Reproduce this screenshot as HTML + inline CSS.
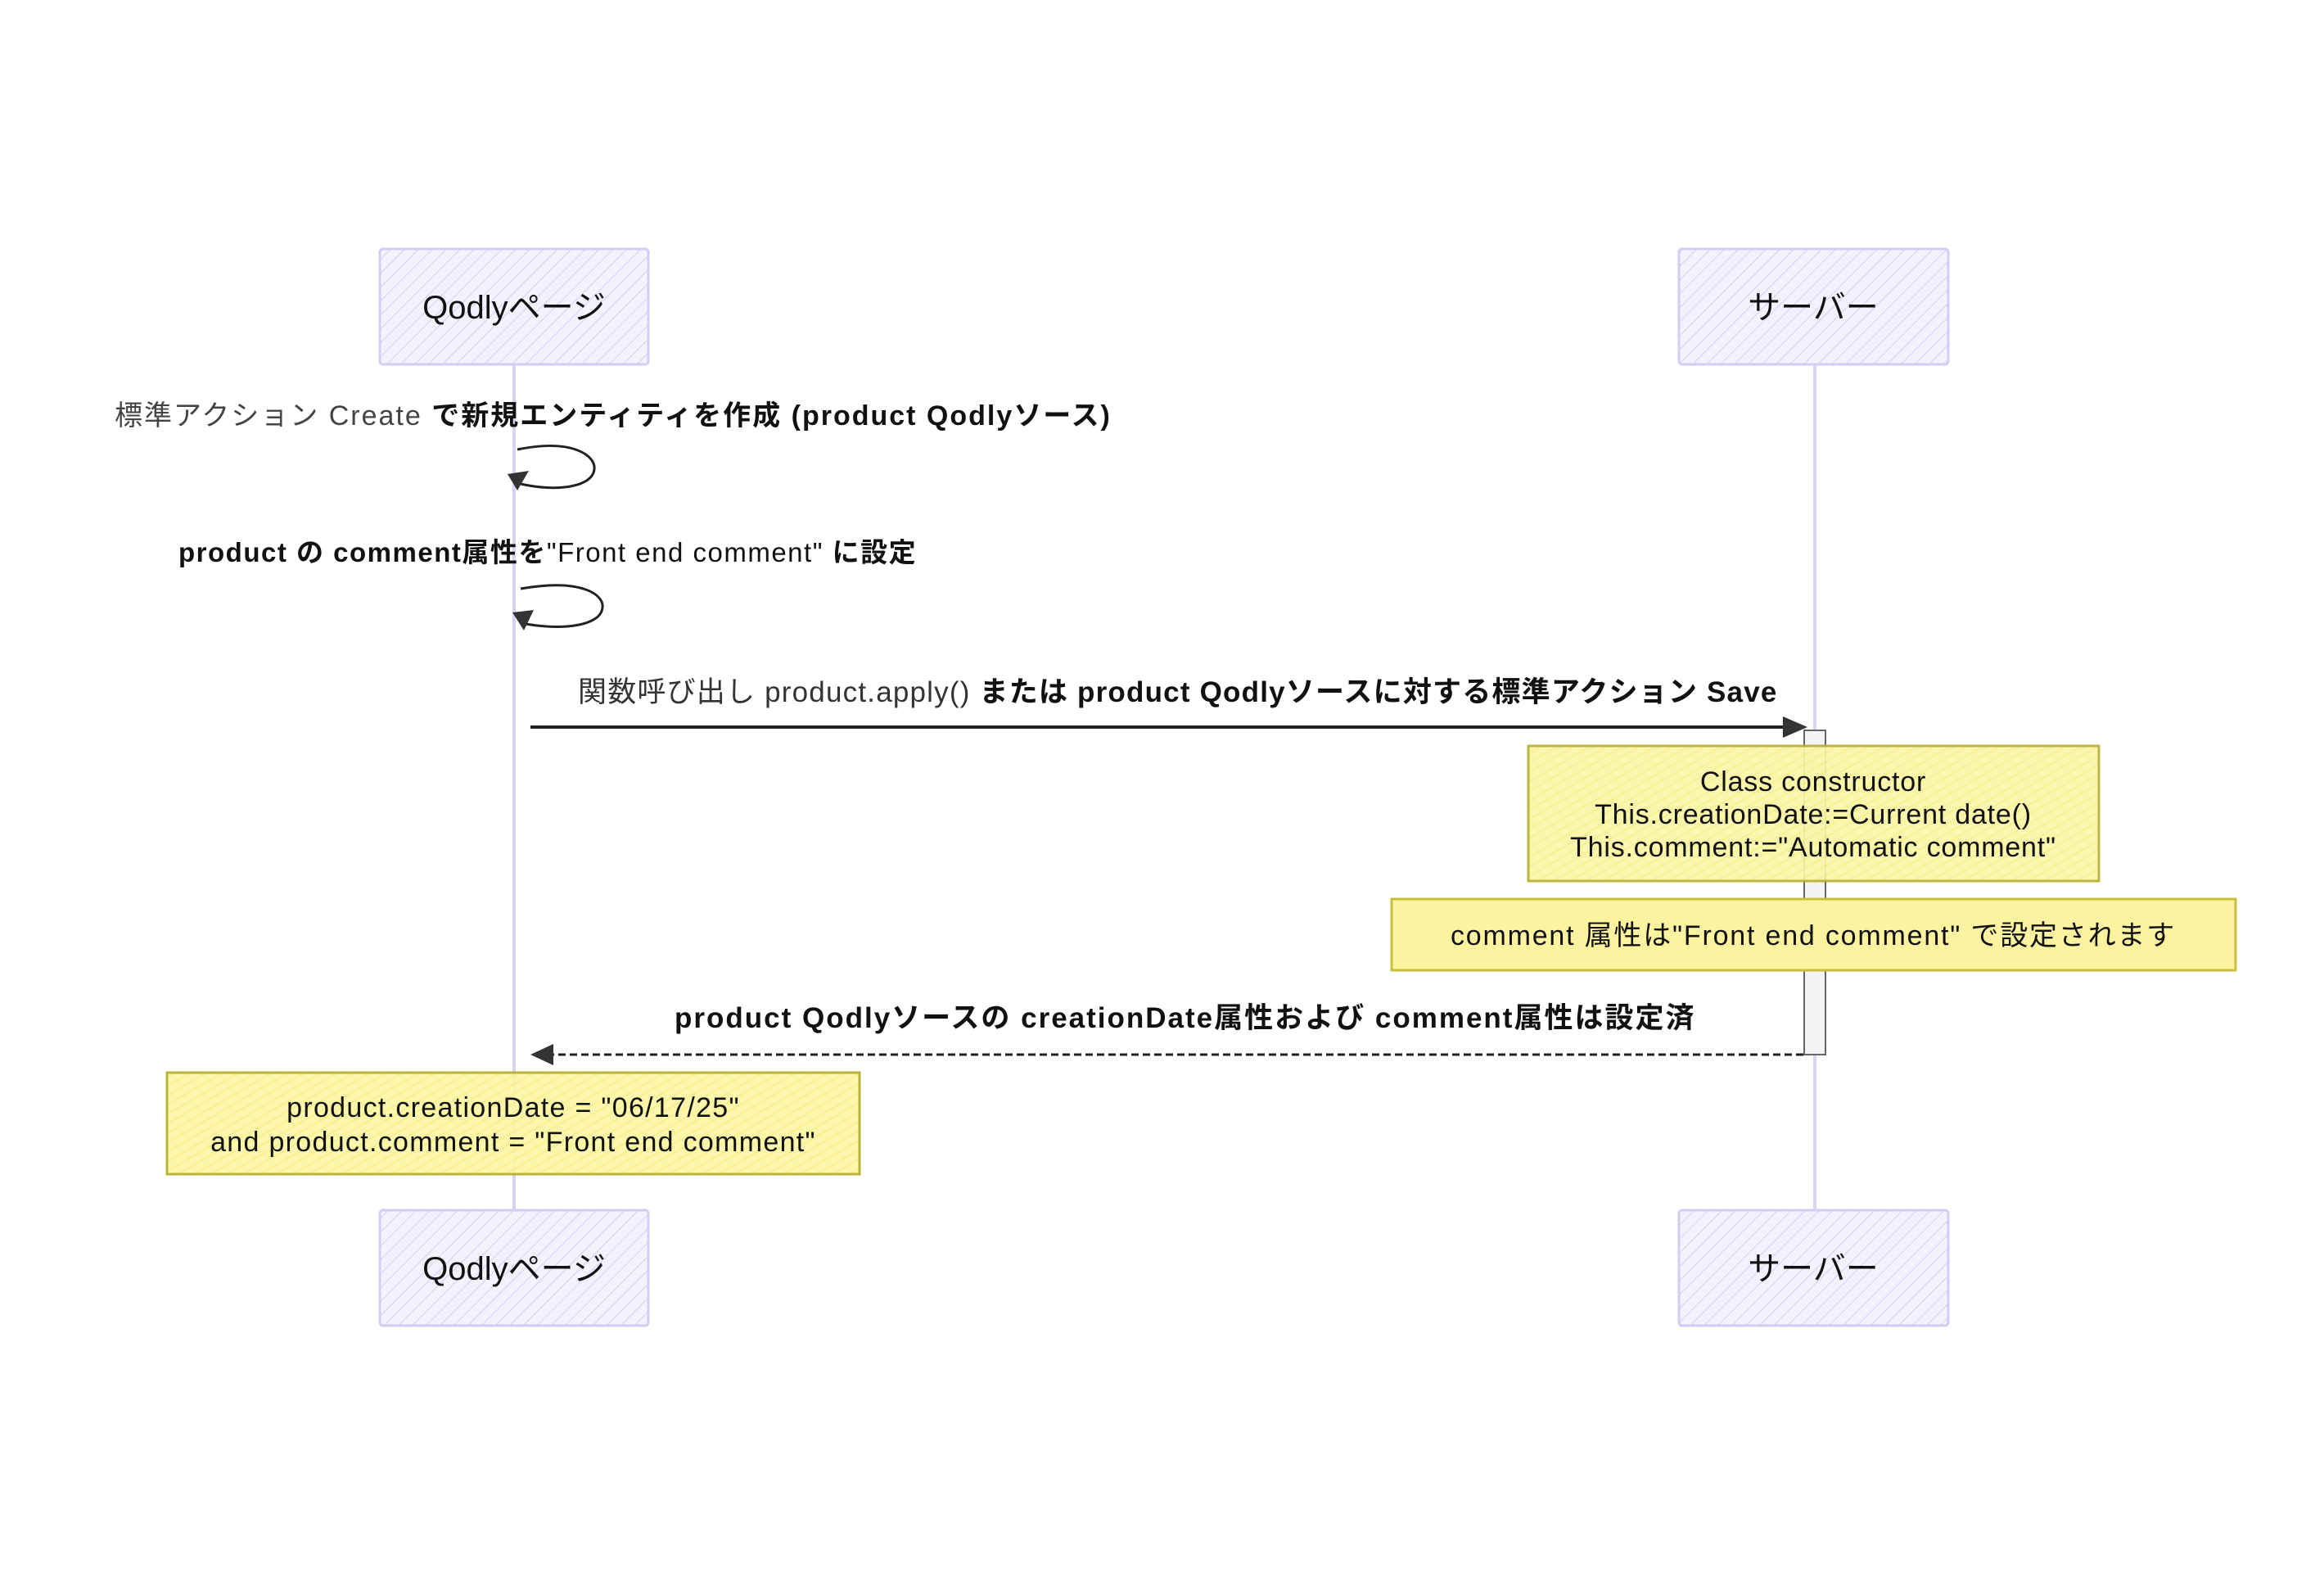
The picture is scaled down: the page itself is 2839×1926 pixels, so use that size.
<!DOCTYPE html>
<html><head><meta charset="utf-8"><style>
html,body{margin:0;padding:0;background:#fff;}
svg{display:block;}
text{font-family:"Liberation Sans","Noto Sans CJK JP",sans-serif;fill:#111;}
</style></head><body>
<svg width="2839" height="1926" viewBox="0 0 2839 1926" xmlns="http://www.w3.org/2000/svg">
<defs>
<pattern id="hp" width="12" height="12" patternUnits="userSpaceOnUse" patternTransform="rotate(45)">
<rect width="12" height="12" fill="#f4f2ff"/><line x1="0" y1="0" x2="0" y2="12" stroke="#ddd8fb" stroke-width="3"/></pattern>
<pattern id="hy" width="10" height="10" patternUnits="userSpaceOnUse" patternTransform="rotate(60)">
<rect width="10" height="10" fill="#fbf6a8"/><line x1="0" y1="0" x2="0" y2="10" stroke="#f6ee80" stroke-width="3"/></pattern>
</defs>
<line x1="628" y1="445" x2="628" y2="1478" stroke="#d9d2f5" stroke-width="4"/>
<line x1="2217" y1="445" x2="2217" y2="1478" stroke="#d9d2f5" stroke-width="4"/>
<g stroke="#d4ccf5" stroke-width="3" fill="url(#hp)">
<rect x="464" y="304" width="328" height="141" rx="4"/>
<rect x="2051" y="304" width="329" height="141" rx="4"/>
<rect x="464" y="1478" width="328" height="141" rx="4"/>
<rect x="2051" y="1478" width="329" height="141" rx="4"/>
</g>
<g font-size="40" text-anchor="middle">
<text x="628" y="389">Qodlyページ</text>
<text x="2215" y="389">サーバー</text>
<text x="628" y="1563">Qodlyページ</text>
<text x="2215" y="1563">サーバー</text>
</g>
<text x="140" y="519" font-size="34" letter-spacing="2"><tspan fill="#444">標準アクション Create </tspan><tspan font-weight="bold">で新規エンティティを作成 (product Qodlyソース)</tspan></text>
<path d="M632 549 C700 535 728 557 726 573 C724 595 680 601 636 591" fill="none" stroke="#222" stroke-width="3"/>
<polygon points="620,579 646,575 632,599" fill="#333"/>
<text x="218" y="686" font-size="33" font-weight="bold" letter-spacing="1.5">product の comment属性を<tspan font-weight="normal">"Front end comment"</tspan> に設定</text>
<path d="M636 719 C710 706 738 726 736 742 C734 764 690 770 642 762" fill="none" stroke="#222" stroke-width="3"/>
<polygon points="626,748 652,745 640,770" fill="#333"/>
<text x="706" y="857" font-size="35" letter-spacing="1.2"><tspan fill="#333">関数呼び出し product.apply() </tspan><tspan font-weight="bold">または product Qodlyソースに対する標準アクション Save</tspan></text>
<line x1="648" y1="888" x2="2190" y2="888" stroke="#222" stroke-width="4"/>
<polygon points="2178,875 2208,888 2178,901" fill="#333"/>
<rect x="2204" y="892" width="26" height="396" fill="#f4f4f4" stroke="#666" stroke-width="2"/>
<rect x="1867" y="911" width="697" height="165" fill="url(#hy)" stroke="#b8b030" stroke-width="3" opacity="0.92"/>
<g font-size="34" text-anchor="middle" letter-spacing="0.8">
<text x="2215" y="966">Class constructor</text>
<text x="2215" y="1006">This.creationDate:=Current date()</text>
<text x="2215" y="1046">This.comment:="Automatic comment"</text>
</g>
<rect x="1700" y="1098" width="1031" height="87" fill="#fbf3a0" stroke="#c8c040" stroke-width="3"/>
<text x="2215" y="1154" font-size="34" text-anchor="middle" letter-spacing="1.8">comment 属性は"Front end comment" で設定されます</text>
<text x="824" y="1255" font-size="35" font-weight="bold" letter-spacing="2">product Qodlyソースの creationDate属性および comment属性は設定済</text>
<line x1="668" y1="1288" x2="2204" y2="1288" stroke="#222" stroke-width="3" stroke-dasharray="9,5"/>
<polygon points="676,1275 648,1288 676,1301" fill="#333"/>
<rect x="204" y="1310" width="846" height="124" fill="url(#hy)" stroke="#b8b030" stroke-width="3" opacity="0.95"/>
<g font-size="34" text-anchor="middle" letter-spacing="1.3">
<text x="627" y="1364">product.creationDate = "06/17/25"</text>
<text x="627" y="1406">and product.comment = "Front end comment"</text>
</g>
</svg>
</body></html>
